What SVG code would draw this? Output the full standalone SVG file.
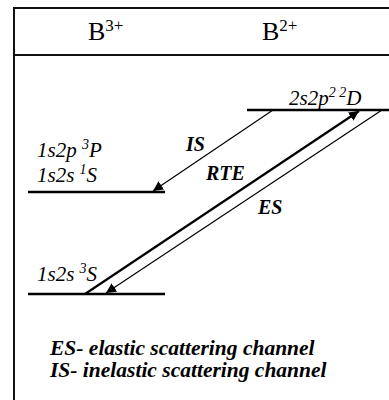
<svg xmlns="http://www.w3.org/2000/svg" width="389" height="400" viewBox="0 0 389 400">
<defs>
<style>
.frame{fill:none;stroke:#111;stroke-width:2}
.lvl{stroke:#000;stroke-width:2.5}
.thin{stroke:#000;stroke-width:1.2;fill:none}
.thick{stroke:#000;stroke-width:2.2;fill:none}
.hdr{font-family:"Liberation Serif","Times New Roman",serif;font-size:26px;fill:#000}
.sup{font-size:17px}
.lab{font-family:"Liberation Serif","Times New Roman",serif;font-style:italic;font-size:21px;fill:#000}
.lsup{font-size:14px}
.bi{font-family:"Liberation Serif","Times New Roman",serif;font-style:italic;font-weight:bold;font-size:20px;fill:#000}
.leg{font-family:"Liberation Serif","Times New Roman",serif;font-style:italic;font-weight:bold;font-size:21.5px;fill:#000}
</style>
<marker id="ah" viewBox="0 0 10 10" refX="10" refY="5" markerWidth="10" markerHeight="10" markerUnits="userSpaceOnUse" orient="auto"><path d="M0,0 L10,5 L0,10 Z" fill="#000"/></marker>
</defs>
<g id="frame">
<path class="frame" d="M14,400 V8 H389"/>
<line class="frame" x1="14" y1="55" x2="389" y2="55"/>
</g>
<g id="header">
<text class="hdr" x="88" y="40">B<tspan class="sup" dy="-9">3+</tspan></text>
<text class="hdr" x="262" y="40">B<tspan class="sup" dy="-9">2+</tspan></text>
</g>
<g id="level-2s2p2-2D">
<line class="lvl" x1="247" y1="110" x2="389" y2="110"/>
<text class="lab" x="289" y="105">2s2p<tspan class="lsup" dy="-8">2 2</tspan><tspan dy="8">D</tspan></text>
</g>
<g id="level-1s2s-1S">
<line class="lvl" x1="28" y1="192" x2="165" y2="192"/>
<text class="lab" x="37" y="157">1s2p <tspan class="lsup" dy="-8">3</tspan><tspan dy="8">P</tspan></text>
<text class="lab" x="37" y="182">1s2s <tspan class="lsup" dy="-8">1</tspan><tspan dy="8">S</tspan></text>
</g>
<g id="level-1s2s-3S">
<line class="lvl" x1="28" y1="294" x2="165" y2="294"/>
<text class="lab" x="37" y="281">1s2s <tspan class="lsup" dy="-8">3</tspan><tspan dy="8">S</tspan></text>
</g>
<g id="connectors">
<line class="thin" x1="273" y1="110" x2="153" y2="191" marker-end="url(#ah)"/>
<line class="thick" x1="85" y1="294" x2="359" y2="111" marker-end="url(#ah)"/>
<line class="thin" x1="382" y1="110" x2="106" y2="293" marker-end="url(#ah)"/>
</g>
<g id="labels">
<text class="bi" x="186" y="151">IS</text>
<text class="bi" x="206" y="180">RTE</text>
<text class="bi" x="258" y="214">ES</text>
</g>
<g id="legend">
<text class="leg" x="50" y="355">ES- elastic scattering channel</text>
<text class="leg" x="50" y="377">IS- inelastic scattering channel</text>
</g>
</svg>
